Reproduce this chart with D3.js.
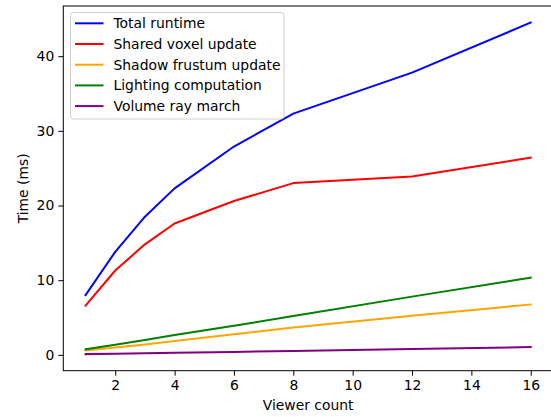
<!DOCTYPE html>
<html>
<head>
<meta charset="utf-8">
<script src="https://cdn.jsdelivr.net/npm/d3@7"></script>
<style>
  body { margin: 0; background: #fff; }
  svg { display: block; font-family: "DejaVu Sans", sans-serif; }
</style>
</head>
<body>
<div id="chart"></div>
<script>
// Viewer counts on the x axis
const viewers = [1, 2, 3, 4, 6, 8, 12, 16];

// Times in ms
const totalRuntime = [8.0, 13.8, 18.5, 22.3, 27.9, 32.3, 37.8, 44.5];
const sharedVoxel = [6.6, 11.3, 14.8, 17.6, 20.6, 23.0, 23.9, 26.4];
const shadowFrustum = [0.6, 1.0, 1.4, 1.85, 2.75, 3.65, 5.25, 6.75];
const lighting = [0.75, 1.35, 2.0, 2.65, 3.9, 5.2, 7.8, 10.35];
const rayMarch = [0.1, 0.16, 0.22, 0.28, 0.4, 0.53, 0.78, 1.05];

const seriesNames = ["Total runtime", "Shared voxel update", "Shadow frustum update",
    "Lighting computation", "Volume ray march"];
const seriesColors = ["blue", "red", "orange", "green", "purple"];
const seriesValues = [totalRuntime, sharedVoxel, shadowFrustum, lighting, rayMarch];

const xTicks = [2, 4, 6, 8, 10, 12, 14, 16];
const yTicks = [0, 10, 20, 30, 40];

const width = 551, height = 417;
const margin = {left: 63.3, top: 6, right: 553, bottom: 370.7};
const fontSize = "13.9px";

const svg = d3.select("#chart").append("svg")
    .attr("width", width)
    .attr("height", height);

// matplotlib-like 5% padding around the data
const xExt = d3.extent(viewers);
const xPad = (xExt[1] - xExt[0]) * 0.05;
const allY = seriesValues.flat();
const yExt = d3.extent(allY);
const yPad = (yExt[1] - yExt[0]) * 0.05;

const x = d3.scaleLinear()
    .domain([xExt[0] - xPad, xExt[1] + xPad])
    .range([margin.left, margin.right]);
const y = d3.scaleLinear()
    .domain([yExt[0] - yPad, yExt[1] + yPad])
    .range([margin.bottom, margin.top]);

// axes
const xAxis = svg.append("g")
    .attr("transform", `translate(0,${margin.bottom})`)
    .call(d3.axisBottom(x).tickValues(xTicks).tickSize(5).tickPadding(4));
const yAxis = svg.append("g")
    .attr("transform", `translate(${margin.left},0)`)
    .call(d3.axisLeft(y).tickValues(yTicks).tickSize(5).tickPadding(4));

[xAxis, yAxis].forEach(a => {
    a.select(".domain").remove();
    a.selectAll("line").attr("stroke", "#000").attr("stroke-width", 1);
    a.selectAll("text").attr("font-size", fontSize).attr("fill", "#000")
        .attr("font-family", "DejaVu Sans, sans-serif");
});

// lines
const line = d3.line()
    .x((d, i) => x(viewers[i]))
    .y(d => y(d));

seriesValues.forEach((vals, k) => {
    svg.append("path")
        .datum(vals)
        .attr("d", line)
        .attr("fill", "none")
        .attr("stroke", seriesColors[k])
        .attr("stroke-width", 2)
        .attr("stroke-linejoin", "round")
        .attr("stroke-linecap", "square");
});

// frame
svg.append("rect")
    .attr("x", margin.left)
    .attr("y", margin.top)
    .attr("width", margin.right - margin.left)
    .attr("height", margin.bottom - margin.top)
    .attr("fill", "none")
    .attr("stroke", "#000")
    .attr("stroke-width", 1);

// axis labels
svg.append("text")
    .attr("x", (margin.left + margin.right) / 2)
    .attr("y", 410)
    .attr("text-anchor", "middle")
    .attr("font-size", fontSize)
    .text("Viewer count");
svg.append("text")
    .attr("transform", `translate(28,${(margin.top + margin.bottom) / 2}) rotate(-90)`)
    .attr("text-anchor", "middle")
    .attr("font-size", fontSize)
    .text("Time (ms)");

// legend
const legend = svg.append("g").attr("transform", "translate(70.5,12.5)");
legend.append("rect")
    .attr("width", 213.5)
    .attr("height", 106.5)
    .attr("rx", 3)
    .attr("fill", "#fff")
    .attr("fill-opacity", 0.8)
    .attr("stroke", "#d0d0d0")
    .attr("stroke-width", 1);

seriesNames.forEach((name, i) => {
    const cy = 10.8 + i * 20.7;
    legend.append("line")
        .attr("x1", 4.5).attr("x2", 33)
        .attr("y1", cy).attr("y2", cy)
        .attr("stroke", seriesColors[i])
        .attr("stroke-width", 2);
    legend.append("text")
        .attr("x", 43)
        .attr("y", cy)
        .attr("dy", "0.35em")
        .attr("font-size", fontSize)
        .text(name);
});
</script>
</body>
</html>
